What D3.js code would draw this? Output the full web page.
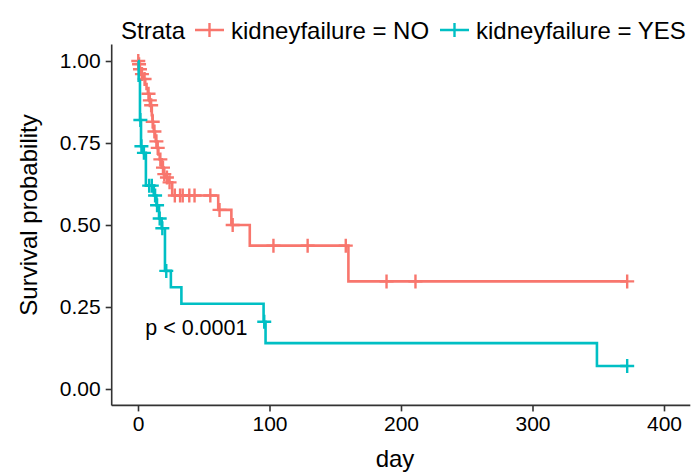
<!DOCTYPE html>
<html>
<head>
<meta charset="utf-8">
<script src="https://cdn.jsdelivr.net/npm/d3@7"></script>
<style>
  body { margin: 0; background: white; }
  text { font-family: "Liberation Sans", Arial, sans-serif; }
</style>
</head>
<body>
<script>
var w = 692;
var h = 473;

// kidneyfailure = NO : step times, survival after each step, censor times
var noTime = [0, 0.5, 1, 2, 4, 5.5, 6.5, 7.5, 8.5, 9.5, 10.5, 11, 11.5, 12, 13, 13.5, 14.5, 15.5, 16.5, 18, 19.5, 21, 23, 26, 61, 71, 85, 160];
var noSurv = [1, 0.99, 0.975, 0.96, 0.945, 0.93, 0.915, 0.9, 0.88, 0.865, 0.835, 0.815, 0.8, 0.785, 0.77, 0.755, 0.735, 0.715, 0.7, 0.675, 0.655, 0.645, 0.63, 0.59, 0.546, 0.5, 0.437, 0.328];
var noCensor = [0.2, 0.8, 1.5, 3, 5, 8, 9, 10, 11.2, 12.5, 14, 15, 17, 19, 20, 22, 24, 28, 32, 34, 39, 43, 55, 62, 72, 103, 129, 158, 189, 211, 372];

// kidneyfailure = YES
var yesTime = [0, 0.5, 1.5, 2.3, 4, 6, 12, 14, 16, 18, 20.5, 25, 33, 95.5, 97, 349];
var yesSurv = [1, 0.94, 0.82, 0.74, 0.72, 0.62, 0.59, 0.56, 0.52, 0.49, 0.36, 0.31, 0.26, 0.205, 0.14, 0.07];
var yesCensor = [1.8, 2.6, 4.5, 8.5, 10.5, 13, 14.5, 16.5, 18.5, 21.5, 96, 372];

var xTicks = [0, 100, 200, 300, 400];
var yTicks = [0, 0.25, 0.5, 0.75, 1];

var strata = [
  { name: "kidneyfailure = NO", color: "#F8766D", time: noTime, surv: noSurv, censor: noCensor },
  { name: "kidneyfailure = YES", color: "#00BFC4", time: yesTime, surv: yesSurv, censor: yesCensor }
];

var pLeft = 111.7, pRight = 690.3, pTop = 44.6, pBottom = 405.4;

var svg = d3.select("body").append("svg")
  .attr("width", w)
  .attr("height", h);

var x = d3.scaleLinear().domain([-20, 420]).range([pLeft, pRight]);
var y = d3.scaleLinear().domain([-0.05, 1.05]).range([pBottom, pTop]);

// step value at time t
function survAt(s, t) {
  var v = 1;
  for (var i = 0; i < s.time.length; i++) {
    if (s.time[i] <= t) v = s.surv[i];
  }
  return v;
}

var line = d3.line()
  .x(function (d) { return x(d[0]); })
  .y(function (d) { return y(d[1]); })
  .curve(d3.curveStepAfter);

function plus(px, py, r) {
  return "M" + (px - r) + "," + py + "H" + (px + r) + "M" + px + "," + (py - r) + "V" + (py + r);
}

strata.forEach(function (s) {
  var pts = s.time.map(function (t, i) { return [t, s.surv[i]]; });
  var last = d3.max(s.censor);
  pts.push([last, s.surv[s.surv.length - 1]]);

  svg.append("path")
    .attr("d", line(pts))
    .attr("fill", "none")
    .attr("stroke", s.color)
    .attr("stroke-width", 2.6);

  svg.append("g").selectAll("path")
    .data(s.censor)
    .join("path")
    .attr("d", function (t) { return plus(x(t), y(survAt(s, t)), 7); })
    .attr("stroke", s.color)
    .attr("stroke-width", 2.4)
    .attr("fill", "none");
});

// axes
var xAxis = svg.append("g")
  .attr("transform", "translate(0," + pBottom + ")")
  .call(d3.axisBottom(x).tickValues(xTicks).tickSize(6).tickPadding(5).tickFormat(d3.format("d")));
var yAxis = svg.append("g")
  .attr("transform", "translate(" + pLeft + ",0)")
  .call(d3.axisLeft(y).tickValues(yTicks).tickSize(6).tickPadding(5).tickFormat(d3.format(".2f")));

[xAxis, yAxis].forEach(function (a) {
  a.select(".domain").attr("stroke", "#333").attr("stroke-width", 1.6);
  a.selectAll(".tick line").attr("stroke", "#333").attr("stroke-width", 1.6);
  a.selectAll(".tick text").attr("fill", "black").style("font-size", "21px")
    .style("font-family", "'Liberation Sans', Arial, sans-serif");
});
// axis lines span the full panel
xAxis.select(".domain").attr("d", "M" + pLeft + ",0H" + pRight);
yAxis.select(".domain").attr("d", "M0," + pTop + "V" + pBottom);

svg.append("text")
  .attr("x", (pLeft + pRight) / 2 - 6)
  .attr("y", 467)
  .attr("text-anchor", "middle")
  .style("font-size", "24px")
  .text("day");

svg.append("text")
  .attr("transform", "translate(37," + ((pTop + pBottom) / 2 - 10) + ") rotate(-90)")
  .attr("text-anchor", "middle")
  .style("font-size", "24px")
  .text("Survival probability");

svg.append("text")
  .attr("x", x(5.5))
  .attr("y", 335)
  .style("font-size", "21.5px")
  .text("p < 0.0001");

// legend
var leg = svg.append("g");
leg.append("text").attr("x", 121).attr("y", 39).style("font-size", "24px").text("Strata");
var legX = [195, 440];
strata.forEach(function (s, i) {
  var lx = legX[i];
  leg.append("path")
    .attr("d", "M" + lx + ",30H" + (lx + 29) + plus(lx + 14.5, 30, 7))
    .attr("stroke", s.color)
    .attr("stroke-width", 2.4)
    .attr("fill", "none");
  leg.append("text").attr("x", lx + 36).attr("y", 39).style("font-size", "24px").text(s.name);
});
</script>
</body>
</html>
